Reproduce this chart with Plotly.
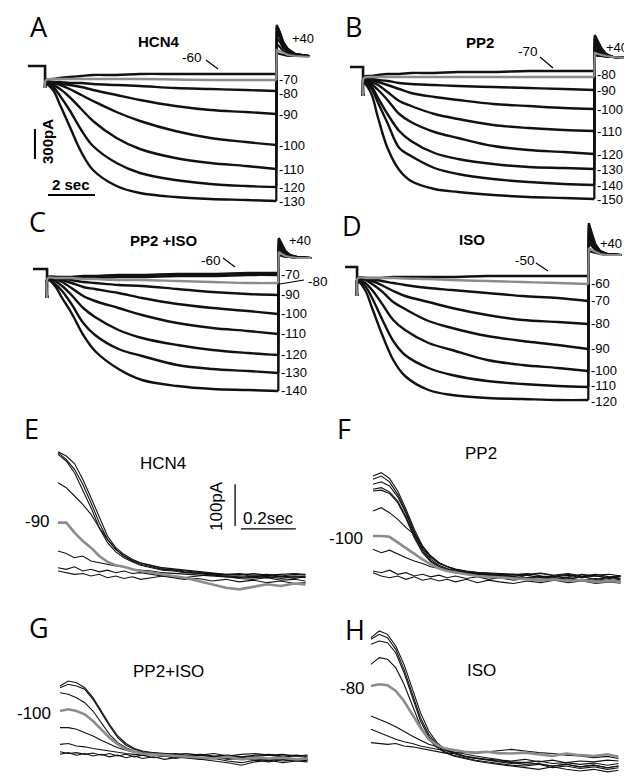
import plotly.graph_objects as go

W, H = 632, 777
BLACK = "#111111"
GRAY = "#8c8c8c"
ARIAL = "Liberation Sans, Arial, sans-serif"
LETTER_FONT = "Open Sans, sans-serif"

# ---------------- Panels A-D : hyperpolarising steps (current pA vs time s) ----------------
STEP_T = [0, 0.3, 0.6, 1.0, 1.5, 2, 3, 4, 5.5, 7, 8.5, 9.8]      # s
TAIL_T = [9.82, 9.95, 10.1, 10.3, 10.6, 11.2]                     # s, tail at +40 mV

A_VOLTS = [-60, -70, -80, -90, -100, -110, -120, -130]
A_STEP = [
    [-140, -130, -120, -110, -100, -90, -90, -80, -80, -80, -80, -80],
    [-140, -130, -130, -130, -130, -130, -130, -130, -135, -140, -140, -140],
    [-160, -160, -160, -170, -170, -180, -190, -200, -220, -230, -240, -250],
    [-170, -170, -180, -190, -210, -240, -290, -340, -400, -440, -460, -480],
    [-170, -170, -190, -230, -290, -350, -460, -550, -650, -720, -760, -790],
    [-180, -190, -230, -310, -430, -550, -720, -830, -920, -970, -1000, -1030],
    [-180, -210, -300, -440, -640, -800, -970, -1070, -1140, -1180, -1200, -1210],
    [-180, -240, -390, -600, -860, -1040, -1200, -1270, -1310, -1330, -1340, -1350],
]
A_TAIL = [
    [130, 120, 110, 100, 100, 100],
    [160, 150, 130, 110, 100, 90],
    [220, 190, 150, 120, 110, 100],
    [280, 240, 180, 140, 110, 100],
    [340, 280, 200, 150, 120, 100],
    [380, 310, 220, 160, 120, 100],
    [400, 330, 230, 160, 120, 100],
    [410, 340, 240, 170, 120, 100],
]

B_VOLTS = [-70, -80, -90, -100, -110, -120, -130, -140, -150]
B_STEP = [
    [-100, -90, -80, -70, -70, -60, -60, -50, -50, -40, -40, -40],
    [-110, -100, -100, -100, -100, -100, -100, -100, -100, -100, -100, -100],
    [-120, -120, -130, -140, -160, -170, -180, -190, -200, -210, -220, -230],
    [-130, -130, -150, -180, -220, -260, -300, -330, -370, -390, -410, -420],
    [-140, -150, -180, -250, -340, -390, -470, -520, -580, -610, -630, -640],
    [-150, -170, -230, -330, -470, -550, -650, -710, -790, -830, -850, -870],
    [-150, -190, -310, -470, -640, -740, -860, -920, -970, -1000, -1010, -1020],
    [-160, -210, -360, -560, -810, -890, -1010, -1070, -1120, -1150, -1170, -1180],
    [-160, -260, -510, -810, -1030, -1140, -1220, -1250, -1280, -1300, -1310, -1320],
]
B_TAIL = [
    [120, 110, 110, 100, 100, 90],
    [140, 130, 120, 110, 100, 90],
    [170, 150, 130, 110, 100, 90],
    [210, 170, 140, 110, 100, 90],
    [240, 190, 150, 120, 100, 90],
    [270, 210, 160, 120, 100, 90],
    [290, 230, 170, 120, 100, 90],
    [310, 250, 180, 130, 100, 90],
    [320, 260, 190, 130, 100, 90],
]

C_VOLTS = [-60, -70, -80, -90, -100, -110, -120, -130, -140]
C_STEP = [
    [-90, -80, -80, -80, -70, -70, -60, -60, -50, -50, -40, -40],
    [-90, -90, -90, -90, -90, -90, -80, -80, -70, -70, -60, -60],
    [-90, -90, -90, -90, -100, -100, -110, -110, -120, -130, -140, -140],
    [-80, -80, -90, -110, -130, -140, -160, -170, -200, -230, -250, -260],
    [-90, -90, -110, -140, -180, -200, -240, -290, -350, -390, -420, -450],
    [-90, -100, -130, -190, -270, -320, -390, -460, -540, -590, -620, -650],
    [-100, -120, -170, -260, -390, -480, -610, -690, -760, -810, -840, -860],
    [-110, -150, -220, -350, -540, -660, -800, -870, -960, -1000, -1020, -1040],
    [-110, -170, -290, -440, -660, -820, -1000, -1110, -1170, -1200, -1210, -1220],
]
C_TAIL = [
    [140, 130, 120, 120, 110, 110],
    [150, 140, 130, 120, 110, 110],
    [170, 150, 130, 120, 110, 110],
    [200, 170, 140, 120, 110, 110],
    [230, 190, 150, 130, 120, 110],
    [260, 210, 160, 130, 120, 110],
    [280, 230, 170, 140, 120, 110],
    [300, 240, 180, 140, 120, 110],
    [310, 250, 180, 140, 120, 110],
]

D_VOLTS = [-50, -60, -70, -80, -90, -100, -110, -120]
D_STEP = [
    [-110, -110, -110, -110, -100, -100, -100, -100, -90, -90, -90, -90],
    [-110, -110, -110, -110, -110, -115, -120, -130, -140, -150, -160, -170],
    [-110, -110, -120, -140, -160, -180, -210, -230, -260, -290, -310, -340],
    [-110, -120, -140, -180, -240, -290, -350, -410, -480, -530, -550, -570],
    [-120, -130, -170, -240, -350, -420, -540, -610, -690, -740, -780, -820],
    [-130, -160, -230, -360, -530, -630, -760, -830, -930, -980, -1010, -1040],
    [-140, -190, -310, -510, -740, -880, -1010, -1080, -1140, -1170, -1190, -1200],
    [-150, -230, -410, -660, -930, -1090, -1230, -1280, -1310, -1320, -1330, -1330],
]
D_TAIL = [
    [160, 150, 140, 130, 120, 120],
    [190, 170, 150, 130, 120, 120],
    [250, 210, 170, 140, 130, 120],
    [300, 240, 180, 140, 130, 120],
    [350, 270, 200, 150, 130, 120],
    [390, 300, 210, 150, 130, 120],
    [420, 320, 220, 160, 130, 120],
    [440, 340, 230, 160, 130, 120],
]

# holding segment start (s) and capacitive transient (pA) for each of A-D
HOLD_START = {"A": -0.77, "B": -0.6, "C": -0.64, "D": -0.55}
CAP_PA = {"A": -220, "B": -290, "C": -290, "D": -290}
GRAY_V = {"A": -70, "B": -80, "C": -80, "D": -60}
POINTER_V = {"A": [-60], "B": [-70], "C": [-60, -80], "D": [-50]}

# ---------------- Panels E-H : tail currents (pA vs ms) ----------------
TAIL_MS = [0, 30, 60, 90, 120, 150, 180, 210, 240, 270, 300, 340, 380, 420,
           460, 510, 560, 610, 660, 710, 760, 810, 860, 900]

E_TRACES = [
    [298, 288, 270, 232, 188, 140, 96, 68, 52, 40, 32, 26, 20, 17, 14, 10, 8, 4, 6, 2, 4, 0, 4, 2],
    [296, 280, 256, 220, 176, 128, 88, 64, 48, 38, 31, 24, 18, 15, 12, 9, 6, 2, 4, -1, 2, -2, 0, -2],
    [292, 276, 248, 208, 164, 116, 80, 58, 44, 34, 26, 20, 14, 12, 8, 6, 2, 0, -2, -4, -1, -6, -2, -4],
    [224, 212, 192, 172, 148, 116, 88, 64, 48, 36, 28, 22, 16, 14, 10, 7, 5, 4, 2, 6, 2, 4, 6, 4],
    [128, 128, 104, 84, 68, 48, 34, 26, 22, 16, 12, 8, 4, 0, -4, -12, -20, -28, -32, -26, -20, -24, -18, -20],
    [60, 54, 44, 48, 36, 32, 28, 24, 22, 16, 14, 12, 8, 6, 4, 2, 0, -2, -4, 0, -4, -1, -6, -2],
    [20, 16, 22, 12, 16, 10, 14, 8, 12, 6, 8, 4, 0, -4, -8, -6, -12, -8, -14, -10, -16, -12, -18, -16],
    [12, 8, 4, 6, 0, 4, -4, 0, -6, -2, -8, -4, 0, -2, -4, 0, 4, -2, -6, -8, -4, -10, -8, -12],
]
E_GRAY = 4

F_TRACES = [
    [240, 248, 234, 204, 160, 112, 72, 48, 32, 23, 17, 12, 9, 7, 6, 4, 4, 7, 2, 6, 0, 4, -2, 1],
    [232, 240, 226, 196, 154, 106, 68, 44, 30, 22, 15, 10, 8, 6, 4, 4, 2, 6, 0, 4, -2, 2, 4, 0],
    [220, 226, 216, 190, 150, 102, 64, 40, 26, 18, 14, 10, 6, 4, 2, 2, 6, 0, -2, 2, -4, 0, -6, -2],
    [208, 212, 202, 180, 142, 96, 60, 36, 23, 16, 12, 8, 4, 2, 0, -1, 2, -4, 0, -6, -2, -8, -4, -7],
    [204, 206, 198, 176, 138, 92, 56, 34, 22, 14, 10, 6, 4, 2, -1, -2, -6, -1, -8, -4, -10, -6, -12, -8],
    [156, 164, 152, 136, 116, 100, 72, 48, 32, 22, 16, 10, 6, 2, -1, 4, -4, 0, -6, -2, 4, 0, -4, -1],
    [96, 96, 94, 80, 68, 52, 40, 28, 18, 12, 8, 4, 0, -2, -4, -6, -8, -10, -8, -12, -10, -14, -12, -14],
    [64, 56, 62, 52, 44, 36, 30, 22, 18, 12, 8, 6, 2, 0, -4, -2, -6, -8, -4, -10, -8, -12, -9, -12],
    [12, 8, 14, 4, 8, 0, 4, -2, 2, -4, 0, -6, -2, -8, -4, -10, -6, -12, -8, -14, -10, -16, -12, -14],
    [8, 0, -4, 0, -8, -2, -10, -6, -12, -8, -14, -8, -16, -10, -14, -18, -12, -16, -10, -16, -12, -18, -14, -17],
]
F_GRAY = 6

G_TRACES = [
    [168, 180, 176, 164, 140, 108, 76, 48, 30, 18, 12, 8, 6, 4, 6, 2, 6, 0, 4, 6, 2, 4, 0, 2],
    [164, 172, 168, 160, 136, 104, 72, 44, 26, 16, 10, 7, 4, 6, 2, 4, 0, 2, -2, 2, 4, 0, 2, -1],
    [152, 148, 140, 128, 108, 80, 52, 32, 20, 12, 8, 6, 2, 4, 0, 2, -2, 0, -4, -1, 2, -2, 0, -4],
    [108, 112, 108, 100, 84, 64, 44, 28, 16, 10, 6, 4, 2, 0, -2, -4, -6, -2, -8, -4, -6, -4, -8, -6],
    [68, 68, 64, 56, 48, 38, 28, 20, 14, 9, 6, 4, 2, 4, 0, -4, -2, -6, -8, -4, -10, -6, -10, -8],
    [28, 30, 24, 22, 18, 15, 12, 8, 6, 4, 2, 4, 0, -2, -4, -8, -6, -12, -16, -10, -14, -8, -12, -10],
    [10, 6, 8, 4, 7, 2, 6, 0, 4, -2, 2, -4, 0, -6, -2, -8, -12, -16, -22, -14, -10, -16, -12, -14],
    [4, 8, 2, 6, 0, 4, -2, 2, -4, 0, -6, -2, -8, -4, 0, -6, -2, -8, -4, -10, -6, -12, -8, -10],
]
G_GRAY = 3

H_TRACES = [
    [284, 300, 292, 264, 220, 164, 104, 60, 32, 16, 8, 0, -4, -8, -12, -14, -16, -12, -18, -16, -20, -17, -22, -18],
    [280, 292, 284, 256, 208, 152, 92, 52, 28, 14, 6, -2, -6, -10, -14, -18, -15, -20, -24, -20, -26, -22, -28, -24],
    [268, 276, 272, 248, 200, 140, 84, 46, 24, 10, 2, -4, -10, -14, -18, -22, -24, -20, -28, -24, -30, -26, -32, -28],
    [220, 236, 232, 212, 172, 124, 72, 40, 20, 8, 0, -6, -12, -16, -20, -24, -28, -32, -26, -32, -36, -32, -38, -34],
    [168, 172, 170, 156, 132, 100, 68, 40, 26, 18, 14, 10, 8, 10, 7, 6, 8, 4, 0, 6, 2, 0, 4, -2],
    [96, 88, 80, 70, 58, 48, 38, 28, 22, 16, 8, 0, -6, -8, -10, -12, -8, -14, -10, -16, -12, -14, -10, -12],
    [64, 56, 48, 40, 34, 30, 24, 20, 16, 14, 10, 6, 0, -4, -8, -16, -20, -18, -24, -20, -26, -22, -28, -24],
    [32, 30, 28, 30, 24, 22, 18, 14, 10, 7, 6, 9, 7, 10, 12, 16, 12, 8, 6, 2, 0, -4, -1, -6],
]
H_GRAY = 4

TAIL_LABEL = {"E": "-90", "F": "-100", "G": "-100", "H": "-80"}
TITLES = {"A": "HCN4", "B": "PP2", "C": "PP2 +ISO", "D": "ISO",
          "E": "HCN4", "F": "PP2", "G": "PP2+ISO", "H": "ISO"}

SCALE_A_PA, SCALE_A_S = 300, 2
SCALE_E_PA, SCALE_E_S = 100, 0.2

# small vertical pixel nudges for crowded right-hand labels
LABEL_NUDGE = {("A", -70): 1, ("A", -80): -2, ("B", -80): 3, ("B", -90): 0,
               ("D", -110): 1, ("D", -120): -2}

# ---------------- geometry (pixel boxes, pixel origin, pixels per unit) ----------------
GEO = {
    "A": dict(n=1, box=(0, 316, 0, 200), x0=38, y0=58, sx=23.5, sy=0.1),
    "B": dict(n=2, box=(316, 632, 0, 200), x0=356, y0=59, sx=23.5, sy=0.1),
    "C": dict(n=3, box=(0, 316, 195, 400), x0=40, y0=261, sx=23.5, sy=0.1),
    "D": dict(n=4, box=(316, 632, 195, 400), x0=350, y0=259, sx=23.5, sy=0.1),
    "E": dict(n=5, box=(0, 316, 400, 590), x0=50, y0=568, sx=275, sy=1 / 2.4),
    "F": dict(n=6, box=(316, 632, 400, 590), x0=365, y0=568, sx=275, sy=1 / 2.4),
    "G": dict(n=7, box=(0, 316, 590, 777), x0=52, y0=748, sx=275, sy=1 / 2.4),
    "H": dict(n=8, box=(316, 632, 590, 777), x0=363, y0=748, sx=275, sy=1 / 2.4),
}


def axref(n):
    return ("x", "y") if n == 1 else (f"x{n}", f"y{n}")


fig = go.Figure()
layout_axes = {}
for key, g in GEO.items():
    l, r, t, b = g["box"]
    n = g["n"]
    xr = [(l - g["x0"]) / g["sx"], (r - g["x0"]) / g["sx"]]
    yr = [(g["y0"] - b) / g["sy"], (g["y0"] - t) / g["sy"]]
    sfx = "" if n == 1 else str(n)
    layout_axes[f"xaxis{sfx}"] = dict(domain=[l / W, r / W], range=xr, visible=False,
                                      anchor=f"y{sfx}", fixedrange=True)
    layout_axes[f"yaxis{sfx}"] = dict(domain=[1 - b / H, 1 - t / H], range=yr, visible=False,
                                      anchor=f"x{sfx}", fixedrange=True)

annotations = []
shapes = []


def P(x, y):
    return x / W, 1 - y / H


def text(t, x, y, size, bold=False, family=ARIAL, angle=0, color="black"):
    px, py = P(x, y)
    annotations.append(dict(text=f"<b>{t}</b>" if bold else t, x=px, y=py, xref="paper",
                            yref="paper", showarrow=False, xanchor="center", yanchor="middle",
                            textangle=angle, borderpad=0,
                            font=dict(family=family, size=size, color=color)))


def pline(x1, y1, x2, y2, w=1.2):
    a, b_ = P(x1, y1)
    c, d = P(x2, y2)
    shapes.append(dict(type="line", xref="paper", yref="paper", x0=a, y0=b_, x1=c, y1=d,
                       line=dict(color="black", width=w)))


# ---- panels A-D traces ----
STEP_DATA = {"A": (A_VOLTS, A_STEP, A_TAIL), "B": (B_VOLTS, B_STEP, B_TAIL),
             "C": (C_VOLTS, C_STEP, C_TAIL), "D": (D_VOLTS, D_STEP, D_TAIL)}
for key, (volts, steps, tails) in STEP_DATA.items():
    xa, ya = axref(GEO[key]["n"])
    fig.add_trace(go.Scatter(x=[HOLD_START[key], -0.04, -0.04], y=[0, 0, CAP_PA[key]],
                             mode="lines", line=dict(color=BLACK, width=2.6),
                             xaxis=xa, yaxis=ya, hoverinfo="skip"))
    order = [i for i, v in enumerate(volts) if v != GRAY_V[key]] + \
            [i for i, v in enumerate(volts) if v == GRAY_V[key]]
    for i in order:
        v, s, tl = volts[i], steps[i], tails[i]
        col = GRAY if v == GRAY_V[key] else BLACK
        fig.add_trace(go.Scatter(x=[-0.04] + STEP_T, y=[CAP_PA[key]] + s, mode="lines",
                                 line=dict(color=col, width=2.4, shape="spline", smoothing=1.0),
                                 xaxis=xa, yaxis=ya, hoverinfo="skip"))
        fig.add_trace(go.Scatter(x=[STEP_T[-1]] + TAIL_T, y=[s[-1]] + tl, mode="lines",
                                 line=dict(color=col, width=2.2),
                                 xaxis=xa, yaxis=ya, hoverinfo="skip"))
        if v not in POINTER_V[key]:
            annotations.append(dict(text=str(v), x=STEP_T[-1], y=s[-1], xref=xa, yref=ya,
                                    xanchor="left", yanchor="middle", xshift=2,
                                    yshift=LABEL_NUDGE.get((key, v), 0), showarrow=False,
                                    borderpad=0,
                                    font=dict(family=ARIAL, size=13, color="black")))

# ---- panels E-H traces ----
TAIL_DATA = {"E": (E_TRACES, E_GRAY), "F": (F_TRACES, F_GRAY),
             "G": (G_TRACES, G_GRAY), "H": (H_TRACES, H_GRAY)}
tx = [m / 1000 for m in TAIL_MS]
for key, (traces, gi) in TAIL_DATA.items():
    xa, ya = axref(GEO[key]["n"])
    for i, tr in enumerate(traces):
        if i == gi:
            continue
        fig.add_trace(go.Scatter(x=tx, y=tr, mode="lines", line=dict(color=BLACK, width=1.1),
                                 xaxis=xa, yaxis=ya, hoverinfo="skip"))
    fig.add_trace(go.Scatter(x=tx, y=traces[gi], mode="lines", line=dict(color=GRAY, width=2.6),
                             xaxis=xa, yaxis=ya, hoverinfo="skip"))

# ---- scale bars (data coords) ----
shapes.append(dict(type="line", xref="x", yref="y", x0=-0.47, x1=-0.47, y0=-630,
                   y1=-630 - SCALE_A_PA, line=dict(color="black", width=2)))
shapes.append(dict(type="line", xref="x", yref="y", x0=0.085, x1=0.085 + SCALE_A_S, y0=-1290,
                   y1=-1290, line=dict(color="black", width=2)))
shapes.append(dict(type="line", xref="x5", yref="y5", x0=0.644, x1=0.644, y0=120,
                   y1=120 + SCALE_E_PA, line=dict(color="black", width=1.3)))
shapes.append(dict(type="line", xref="x5", yref="y5", x0=0.665, x1=0.665 + SCALE_E_S, y0=113,
                   y1=113, line=dict(color="black", width=1.3)))
text(f"{SCALE_A_PA}pA", 40, 134, 15, bold=True, angle=-90)
text(f"{SCALE_A_S} sec", 63, 176, 15, bold=True)
text(f"{SCALE_E_PA}pA", 208, 498, 17, angle=-90)
text(f"{SCALE_E_S}sec", 260, 510, 17)

# ---- panel letters ----
for k, (x, y) in {"A": (31, 19), "B": (345, 19), "C": (29, 213), "D": (344, 218),
                  "E": (23, 421), "F": (336, 421), "G": (31, 619), "H": (347, 621)}.items():
    text(k, x, y, 27, family=LETTER_FONT)

# ---- titles ----
for k, (x, y) in {"A": (150, 33), "B": (472, 35), "C": (155, 233), "D": (464, 231)}.items():
    text(TITLES[k], x, y, 15, bold=True)
for k, (x, y) in {"E": (155, 455), "F": (473, 445), "G": (160, 663), "H": (473, 662)}.items():
    text(TITLES[k], x, y, 17)

# ---- +40 labels ----
for x, y in [(295, 31), (609, 39), (292, 233), (603, 235)]:
    text("+40", x, y, 13)

# ---- pointer labels ----
text("-60", 184, 50, 13.5); pline(198, 52, 210, 61)
text("-70", 520, 43, 13.5); pline(532, 49, 545, 60)
text("-60", 203, 252, 13.5); pline(215, 250, 227, 259)
text("-80", 310, 273, 13.5); pline(272, 276, 296, 272)
text("-50", 517, 253, 13.5); pline(528, 255, 540, 263)

# ---- E-H voltage labels ----
for k, (x, y) in {"E": (29, 513), "F": (338, 530), "G": (26, 705), "H": (344, 680)}.items():
    text(TAIL_LABEL[k], x, y, 17)

fig.update_layout(width=W, height=H, margin=dict(l=0, r=0, t=0, b=0),
                  paper_bgcolor="white", plot_bgcolor="white", showlegend=False,
                  annotations=annotations, shapes=shapes, **layout_axes)
fig.write_html("out.html", config={"displayModeBar": False})
